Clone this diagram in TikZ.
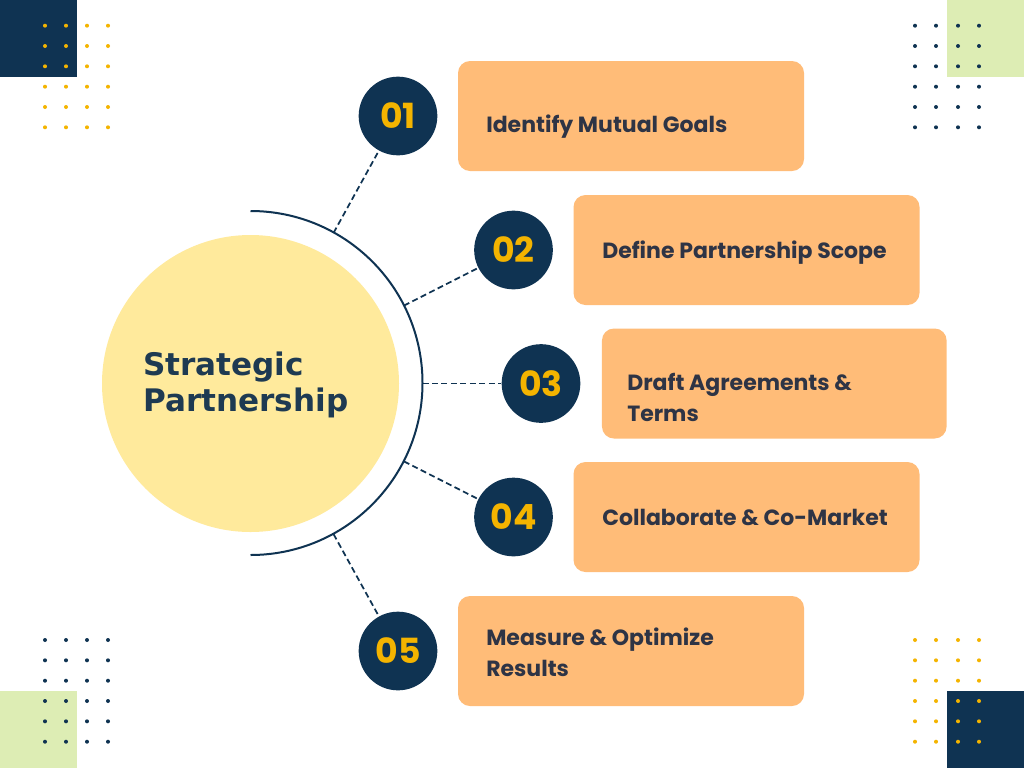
\documentclass[tikz,border=0pt]{standalone}
\usepackage{fontspec}
\setmainfont{Poppins}
\newfontfamily\titlefont{DejaVu Sans}
\usetikzlibrary{calc}
\definecolor{navy}{HTML}{0F3352}
\definecolor{gold}{HTML}{F4B400}
\definecolor{leaf}{HTML}{DDEDB4}
\definecolor{cream}{HTML}{FFEA9C}
\definecolor{peach}{HTML}{FFBC78}
\definecolor{ink}{HTML}{2E3445}
\definecolor{titleblue}{HTML}{1E3A52}
\begin{document}
\begin{tikzpicture}[x=0.75pt,y=-0.75pt,
  numc/.style={circle,fill=navy,minimum size=59pt,inner sep=0pt,text=gold,
    font=\fontsize{26}{30}\selectfont\bfseries},
  stepbox/.style={fill=peach,rounded corners=9pt,minimum width=259.5pt,
    minimum height=82.5pt,inner sep=0pt},
  btext/.style={anchor=base west,align=left,text=ink,inner sep=0pt,
    font=\fontsize{16.5}{23}\selectfont\bfseries},
  conn/.style={draw=navy,line width=1.3pt,dash pattern=on 4.5pt off 2.6pt},
  dotdeco/.style={radius=1.5pt}]
\useasboundingbox (0,0) rectangle (1024,768);
\fill[white] (0,0) rectangle (1024,768);
% corner squares
\fill[navy] (0,0) rectangle (76.5,76.5);
\fill[leaf] (947,0) rectangle (1024,76.5);
\fill[leaf] (0,691) rectangle (76.5,768);
\fill[navy] (947,691) rectangle (1024,768);
% dot grids
\foreach \x in {45,66,87,108}
  \foreach \y in {25.7,46,66.3,86.7,107,127.3}
    \fill[gold] (\x,\y) circle[dotdeco];
\foreach \x in {915,936,958,979}
  \foreach \y in {25.7,46,66.3,86.7,107,127.3}
    \fill[navy] (\x,\y) circle[dotdeco];
\foreach \x in {45,66,87,108}
  \foreach \y in {640,660.3,680.7,701,721.3,741.7}
    \fill[navy] (\x,\y) circle[dotdeco];
\foreach \x in {915,936,958,979}
  \foreach \y in {640,660.3,680.7,701,721.3,741.7}
    \fill[gold] (\x,\y) circle[dotdeco];
% core circle and arc
\node[circle,fill=cream,minimum size=222.75pt,inner sep=0pt] (core) at (250.5,383.5) {};
\node[anchor=base west,align=left,inner sep=0pt,text=titleblue,
  font=\titlefont\fontsize{23.3}{26.8}\selectfont\bfseries] (title) at (143,411.7) {Strategic\\Partnership};
\draw[navy,line width=1.5pt] (250.5,211) arc[start angle=90,end angle=-90,radius=129pt];
% number circles
\node[numc] (n1) at (398,116) {01};
\node[numc] (n2) at (513.5,250) {02};
\node[numc] (n3) at (541,383.5) {03};
\node[numc] (n4) at (513.5,517) {04};
\node[numc] (n5) at (398,651) {05};
% connectors
\foreach \i in {1,...,5}{
  \coordinate (a\i) at ($(core.center)!129pt!(n\i)$);
  \draw[conn] (a\i) -- (n\i);
}
% boxes
\node[stepbox] (b1) at (631,116) {};
\node[stepbox] (b2) at (746.5,250) {};
\node[stepbox,minimum width=258.5pt] (b3) at (774.3,383.5) {};
\node[stepbox] (b4) at (746.5,517) {};
\node[stepbox] (b5) at (631,651) {};
\node[btext] (t1) at (486,132.3) {Identify Mutual Goals};
\node[btext] (t2) at (602,258.3) {Define Partnership Scope};
\node[btext] (t3) at (627,421) {Draft Agreements \&\\Terms};
\node[btext] (t4) at (602,525.3) {Collaborate \& Co-Market};
\node[btext] (t5) at (486,676) {Measure \& Optimize\\Results};
\end{tikzpicture}
\end{document}
